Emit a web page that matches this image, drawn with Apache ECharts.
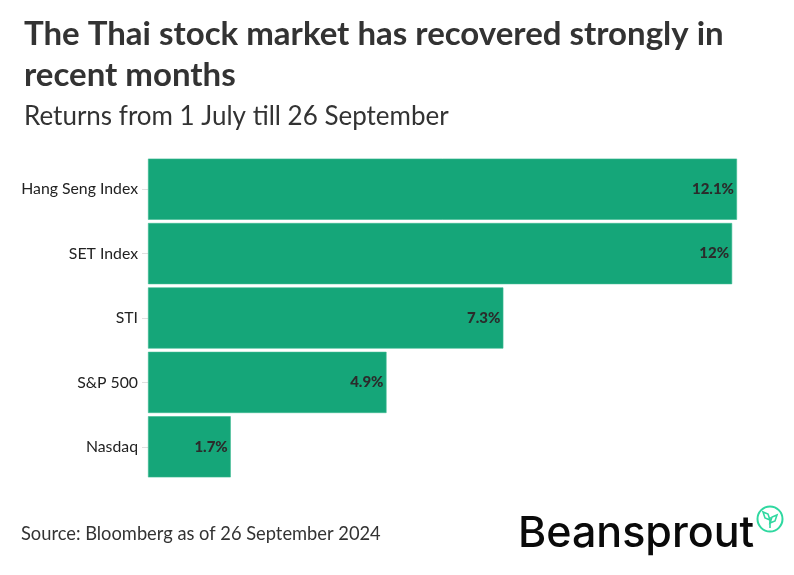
<!DOCTYPE html>
<html><head><meta charset="utf-8">
<script src="https://cdn.jsdelivr.net/npm/echarts@6/dist/echarts.min.js"></script>
<style>html,body{margin:0;padding:0;background:#fff}#c{width:794px;height:575px}</style>
</head><body><div id="c"></div>
<script>
var categories = ['Hang Seng Index', 'SET Index', 'STI', 'S&P 500', 'Nasdaq'];
var returns = [12.1, 12, 7.3, 4.9, 1.7];
var valueLabels = ['12.1%', '12%', '7.3%', '4.9%', '1.7%'];

var chart = echarts.init(document.getElementById('c'), null, {renderer: 'canvas'});
var FONT = 'Lato, "Open Sans", sans-serif';
chart.setOption({
  backgroundColor: '#fff',
  animation: false,
  title: [
    {text: 'The Thai stock market has recovered strongly in\nrecent months', left: 19, top: 9,
     textStyle: {fontFamily: FONT, fontSize: 33, fontWeight: 'bold', color: '#333', lineHeight: 41}},
    {text: 'Returns from 1 July till 26 September', left: 19, top: 99,
     textStyle: {fontFamily: FONT, fontSize: 26, fontWeight: 'normal', color: '#333'}}
  ],
  grid: {left: 148, right: 57, top: 157, bottom: 96, containLabel: false},
  xAxis: {type: 'value', min: 0, max: 12.1, show: false},
  yAxis: {type: 'category', data: categories, inverse: true,
    axisLine: {show: false},
    axisTick: {show: true, length: 6, lineStyle: {color: '#e0e0e0'}, alignWithLabel: true},
    axisLabel: {fontFamily: FONT, fontSize: 15.8, color: '#222', margin: 10}
  },
  series: [{
    type: 'bar', data: returns, barCategoryGap: '5%',
    itemStyle: {color: '#15a679', borderColor: '#3dbb92', borderWidth: 0.6},
    label: {show: true, position: 'insideRight', distance: 3,
      formatter: function(p){ return valueLabels[p.dataIndex]; },
      fontFamily: FONT, fontSize: 15, fontWeight: 900, color: '#2b2b2b'}
  }],
  graphic: [
    {type: 'text', left: 21, top: 525, style: {text: 'Source: Bloomberg as of 26 September 2024',
      font: '18.3px ' + FONT, fill: '#333'}},
    {type: 'text', left: 518, top: 513, style: {text: 'Beansprout',
      font: '500 43px Inter, "Open Sans", sans-serif', fill: '#0a0a0a'}},
    {type: 'circle', shape: {cx: 770, cy: 519, r: 12.5}, style: {fill: 'none', stroke: '#2fd8a0', lineWidth: 2}},
    {type: 'line', shape: {x1: 770, y1: 528, x2: 770, y2: 517}, style: {stroke: '#2fd8a0', lineWidth: 1.6}},
    {type: 'polygon', shape: {points: [[770, 520], [765, 518], [763, 512], [768, 514]]}, style: {fill: 'none', stroke: '#2fd8a0', lineWidth: 1.6}},
    {type: 'polygon', shape: {points: [[770, 523], [775, 521], [777, 515], [772, 517]]}, style: {fill: 'none', stroke: '#2fd8a0', lineWidth: 1.6}}
  ]
});
</script></body></html>
